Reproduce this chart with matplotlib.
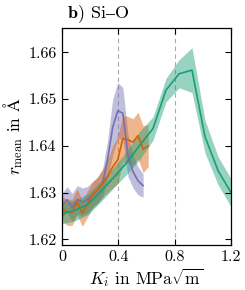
import numpy as np
import matplotlib
matplotlib.use("Agg")
import matplotlib.pyplot as plt

plt.rcParams['font.family'] = ['cmr10', 'DejaVu Serif']
plt.rcParams['mathtext.fontset'] = 'cm'
plt.rcParams['axes.formatter.use_mathtext'] = True

# green series (coarse sampling)
x_green = [0.0, 0.092, 0.185, 0.277, 0.369, 0.462, 0.554, 0.646, 0.738, 0.831, 0.923, 1.015, 1.108, 1.2]
y_green = [1.6255, 1.6262, 1.6275, 1.6303, 1.6333, 1.6365, 1.6402, 1.6437, 1.6519, 1.6554, 1.6562, 1.6420, 1.6347, 1.6300]
e_green = [0.0022, 0.0022, 0.0022, 0.0022, 0.0022, 0.0025, 0.0030, 0.0025, 0.0025, 0.0030, 0.0048, 0.0035, 0.0030, 0.0030]

# orange series
x_orange = [0.0, 0.036, 0.072, 0.108, 0.144, 0.18, 0.216, 0.252, 0.288, 0.324, 0.36, 0.396, 0.432, 0.468, 0.504, 0.54, 0.576, 0.612]
y_orange = [1.6266, 1.6258, 1.6258, 1.6280, 1.6256, 1.6275, 1.6295, 1.6305, 1.6320, 1.6335, 1.6355, 1.6370, 1.6415, 1.6413, 1.6408, 1.6422, 1.6393, 1.6400]
e_orange = [0.0025, 0.0028, 0.0028, 0.0028, 0.0028, 0.0028, 0.0028, 0.0028, 0.0030, 0.0035, 0.0045, 0.0050, 0.0050, 0.0050, 0.0050, 0.0050, 0.0050, 0.0045]

# purple series
x_purple = [0.0, 0.036, 0.072, 0.108, 0.144, 0.18, 0.216, 0.252, 0.288, 0.324, 0.36, 0.396, 0.432, 0.468, 0.504, 0.54, 0.576]
y_purple = [1.6273, 1.6285, 1.6268, 1.6285, 1.6280, 1.6285, 1.6295, 1.6305, 1.6320, 1.6372, 1.6440, 1.6475, 1.6470, 1.6380, 1.6345, 1.6325, 1.6315]
e_purple = [0.0025, 0.0028, 0.0030, 0.0030, 0.0030, 0.0028, 0.0028, 0.0028, 0.0030, 0.0040, 0.0060, 0.0060, 0.0055, 0.0045, 0.0035, 0.0030, 0.0025]

vlines = [0.4, 0.8]
xticks = [0, 0.4, 0.8, 1.2]
xticklabels = ['0', '0.4', '0.8', '1.2']
yticks = [1.62, 1.63, 1.64, 1.65, 1.66]
yticklabels = ['1.62', '1.63', '1.64', '1.65', '1.66']

fig = plt.figure(figsize=(2.45, 2.9), dpi=100)
ax = fig.add_axes([62/245, 1-245/290, (231-62)/245, (245-28)/290])

series = [
    (x_purple, y_purple, e_purple, '#7570b3'),
    (x_orange, y_orange, e_orange, '#d95f02'),
    (x_green, y_green, e_green, '#1b9e77'),
]
for xs, ys, es, c in series:
    xs = np.array(xs); ys = np.array(ys); es = np.array(es)
    ax.fill_between(xs, ys - es, ys + es, color=c, alpha=0.45, lw=0)
    ax.plot(xs, ys, color=c, lw=1.2)

for v in vlines:
    ax.axvline(v, color='#aaaaaa', ls=(0, (4, 3)), lw=0.8, zorder=0)

ax.set_xlim(0, 1.2)
ax.set_ylim(1.6188, 1.6652)
ax.set_xticks(xticks)
ax.set_xticklabels(xticklabels)
ax.set_yticks(yticks)
ax.set_yticklabels(yticklabels)
ax.tick_params(direction='in', top=True, right=True, labelsize=11.5, length=4, width=0.8, pad=4)
for s in ax.spines.values():
    s.set_linewidth(0.9)

ax.set_xlabel(r'$K_i$ in MPa$\sqrt{\mathrm{m}}$', fontsize=12.5, labelpad=1)
ax.set_ylabel(r'$r_\mathrm{mean}$ in $\mathrm{\AA}$', fontsize=12.5, labelpad=2)
fig.text(67/245, 1-14/290, r'$\mathbf{b)}$ $\mathrm{Si–O}$', fontsize=13, ha='left', va='center')

fig.savefig('out.png', dpi=100)
